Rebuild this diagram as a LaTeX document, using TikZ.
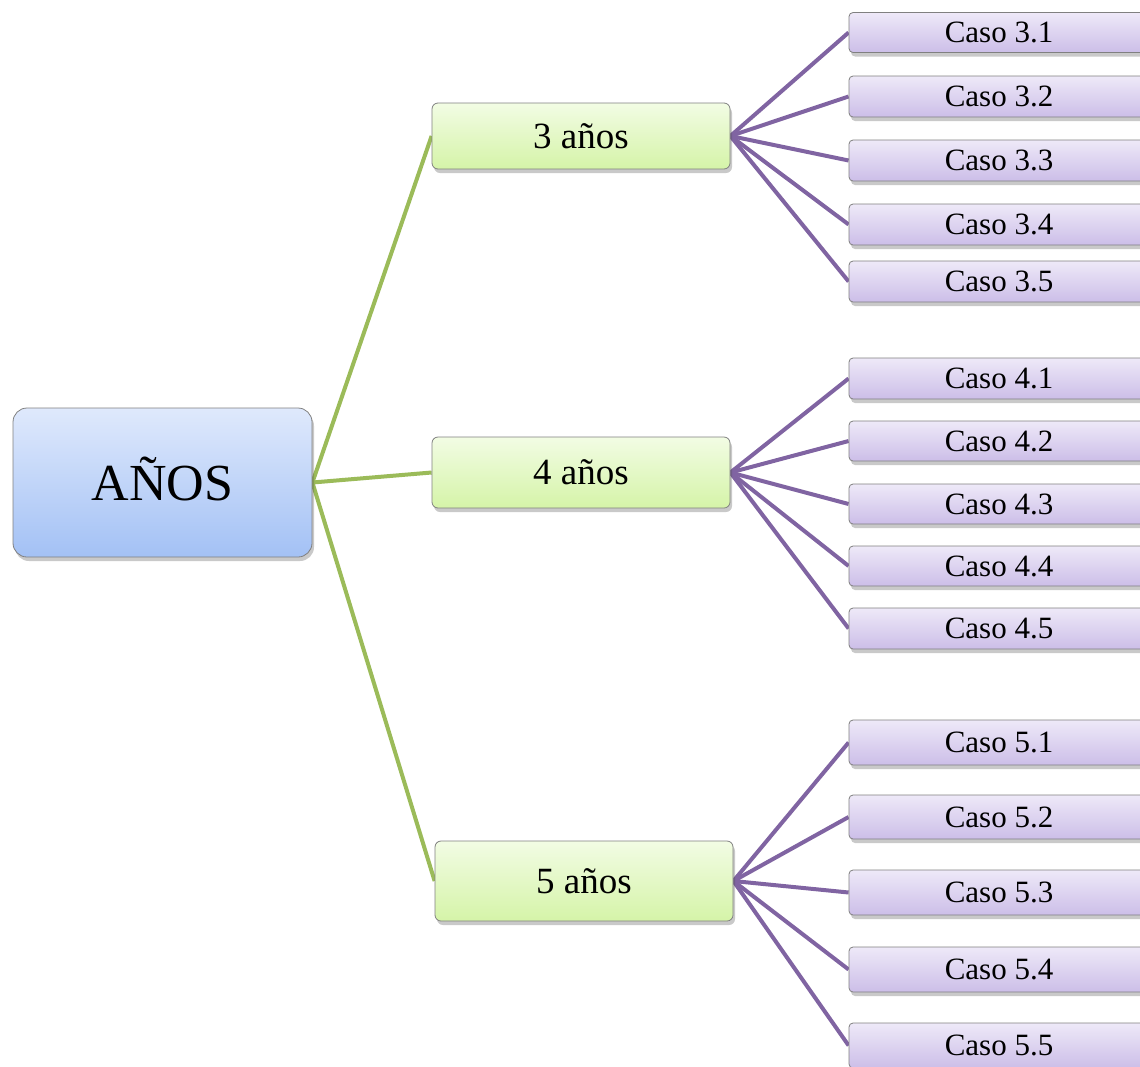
\documentclass[tikz,border=0pt]{standalone}
\usepackage{fontspec}
\setmainfont{Liberation Serif}
\usetikzlibrary{shadows,backgrounds}
\definecolor{rootTop}{HTML}{DFE9FC}
\definecolor{rootBot}{HTML}{A3C1F5}
\definecolor{ageTop}{HTML}{F2FCE4}
\definecolor{ageBot}{HTML}{D5F4A8}
\definecolor{caseTop}{HTML}{EEE9F8}
\definecolor{caseBot}{HTML}{CCBEE8}
\definecolor{lineG}{HTML}{9BBB59}
\definecolor{lineP}{HTML}{8064A2}
\tikzset{
  box/.style={draw=black!50, line width=0.8pt, inner sep=0pt,
    drop shadow={shadow xshift=2pt, shadow yshift=-4pt, opacity=0.3, fill=black!70}},
  rootbox/.style={box, rounded corners=14pt, minimum width=299pt, minimum height=149pt,
    top color=rootTop, bottom color=rootBot, font=\fontsize{52}{60}\selectfont,
    text height=36pt, text depth=0pt},
  agebox/.style={box, rounded corners=6pt, minimum width=298pt,
    top color=ageTop, bottom color=ageBot, font=\fontsize{37}{44}\selectfont},
  casebox/.style={box, rounded corners=4pt, minimum width=300pt,
    top color=caseTop, bottom color=caseBot, font=\fontsize{31}{36}\selectfont},
  greenline/.style={draw=lineG, line width=4pt},
  purpleline/.style={draw=lineP, line width=4pt}
}
\begin{document}
\begin{tikzpicture}[x=1pt, y=-1pt, line join=round, line cap=round]
  \useasboundingbox (0,0) rectangle (1140,1066);
  \node[rootbox] (anos) at (162.5,482.5) {AÑOS};
  \node[agebox, minimum height=66pt] (a3) at (581,136) {3 años};
  \node[agebox, minimum height=71pt] (a4) at (581,472.5) {4 años};
  \node[agebox, minimum height=80pt] (a5) at (584,881) {5 años};
  % casos de cada edad
  \foreach \g/\i/\y/\h in {3/1/32.5/40, 3/2/96.5/41, 3/3/160.5/41, 3/4/224.5/41, 3/5/281.5/41,
      4/1/378.5/41, 4/2/441/40, 4/3/504/40, 4/4/566/40, 4/5/628.5/41,
      5/1/742.5/45, 5/2/817/44, 5/3/892.5/45, 5/4/969.5/45, 5/5/1045.5/45}
    \node[casebox, minimum height=\h pt] (c\g\i) at (999,\y) {Caso \g.\i};
  \begin{scope}[on background layer]
    \foreach \g in {3,4,5}
      \draw[greenline] (anos.east) -- (a\g.west);
    \foreach \g in {3,4,5}
      \foreach \i in {1,...,5}
        \draw[purpleline] (a\g.east) -- (c\g\i.west);
  \end{scope}
\end{tikzpicture}
\end{document}
